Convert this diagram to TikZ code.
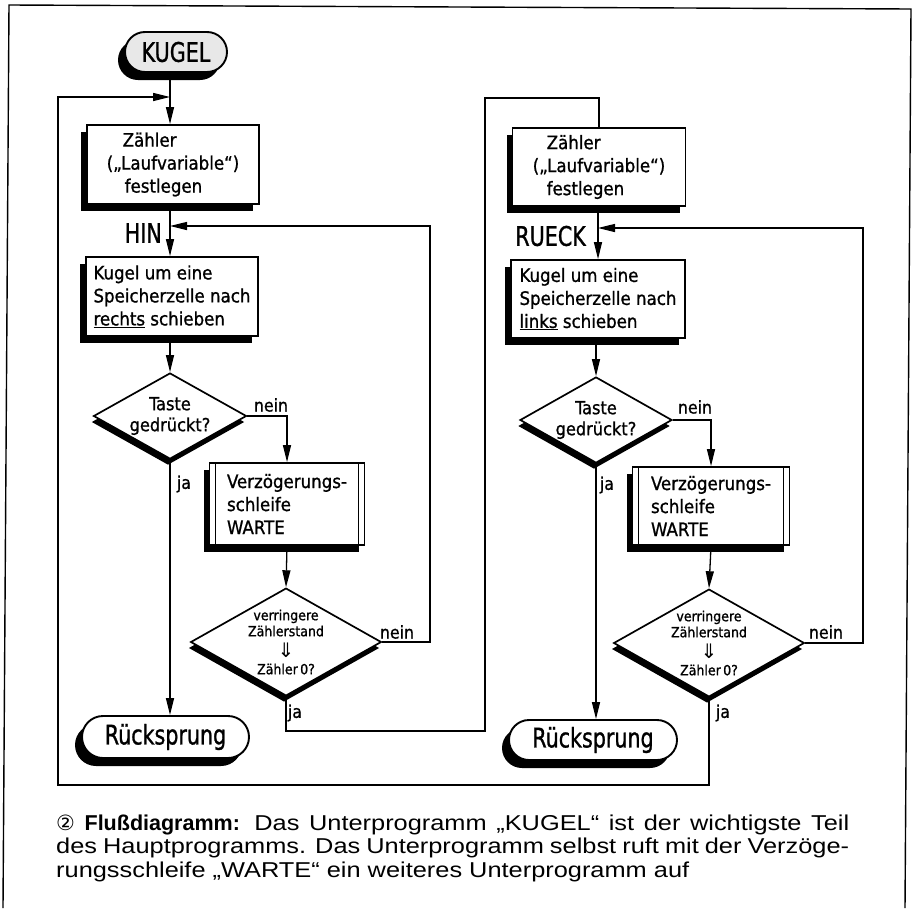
\documentclass[tikz,border=0pt]{standalone}
\usepackage{fontspec}
\setmainfont{DejaVu Sans Condensed}[FakeBold=1]
\newfontfamily\bigfont{DejaVu Sans Condensed}[FakeStretch=0.85,FakeBold=1]
\newfontfamily\capfont{Liberation Sans}[FakeStretch=1.18]
\newfontfamily\capbold{Liberation Sans Bold}
\newfontfamily\symfont{DejaVu Sans}
\usetikzlibrary{shapes.geometric,shapes.misc,shadows,arrows.meta}
\begin{document}
\begin{tikzpicture}[x=1pt,y=-1pt,
  conn/.style={line width=1.3pt},
  arr/.style={line width=1.3pt,-{Triangle[length=17pt,width=8pt]}},
  procbox/.style={draw, line width=1.7pt, fill=white, rectangle, inner sep=0pt,
     font=\fontsize{18.5}{23}\selectfont, align=left,
     drop shadow={shadow xshift=-6pt, shadow yshift=-7pt, opacity=1, fill=black}},
  termbox/.style={draw, line width=1.9pt, fill=white, rounded rectangle, inner sep=0pt,
     font=\bigfont\fontsize{27}{28}\selectfont,
     drop shadow={shadow xshift=-7pt, shadow yshift=-8pt, opacity=1, fill=black}},
  decbox/.style={draw, line width=1.7pt, fill=white, diamond, inner sep=0pt, align=center,
     drop shadow={shadow xshift=-2pt, shadow yshift=-6pt, opacity=1, fill=black}},
  lbl/.style={inner sep=0pt, font=\fontsize{17.5}{19}\selectfont},
  biglbl/.style={inner sep=0pt, font=\bigfont\fontsize{27}{28}\selectfont},
  capline/.style={inner sep=0pt, anchor=base west, font=\capfont\fontsize{21.5}{23.5}\selectfont}
]
\useasboundingbox (0,0) rectangle (918,908);
\fill[white] (0,0) rectangle (918,908);
% outer frame
\draw[line width=1.4pt] (3,908) -- (9,5) -- (911,9) -- (905,908);

% ---------- left column ----------
\node[termbox, fill=gray!18, minimum width=102pt, minimum height=40pt] (kugel) at (176,52) {KUGEL};
\coordinate (j1) at (170,97);
\node[procbox, minimum width=172pt, minimum height=79pt] (b1) at (173,164.5)
  {\hspace*{16pt}Zähler\\(„Laufvariable“)\\\hspace*{18pt}festlegen};
\coordinate (j2) at (170,226);
\node[biglbl, anchor=east] (hin) at (162,233) {HIN};
\node[procbox, minimum width=172pt, minimum height=79pt] (b2) at (172,296.5)
  {Kugel um eine\\Speicherzelle nach\\\underline{rechts} schieben};
\node[decbox, minimum width=153pt, minimum height=86pt, aspect=1.78,
  font=\fontsize{18}{21}\selectfont] (d1) at (170,416) {Taste\\gedrückt?};
\node[procbox, minimum width=155pt, minimum height=82pt] (b3) at (287,504)
  {Verzögerungs-\\schleife\\WARTE};
\draw[line width=1.3pt] ([xshift=7pt]b3.north west) -- ([xshift=7pt]b3.south west);
\draw[line width=1.3pt] ([xshift=-7pt]b3.north east) -- ([xshift=-7pt]b3.south east);
\node[decbox, minimum width=188pt, minimum height=106pt, aspect=1.77,
  font=\fontsize{14}{16}\selectfont] (d2) at (286,642)
  {verringere\\Zählerstand\\[5pt]{\symfont\fontsize{20}{16}\selectfont ⇓}\\[1pt]Zähler\,0?};
\node[termbox, minimum width=167pt, minimum height=42pt] (r1) at (165.5,737) {Rücksprung};
\node[lbl] (n1) at (271,405) {nein};
\node[lbl] (y1) at (184,484) {ja};
\node[lbl] (n2) at (397,632) {nein};
\node[lbl] (y2) at (295,713) {ja};

\coordinate (lr) at (430,226);
\coordinate (xa) at (485,731);
\coordinate (xb) at (485,98);

% ---------- right column ----------
\node[procbox, minimum width=173pt, minimum height=78pt] (rb1) at (599,167)
  {\hspace*{14pt}Zähler\\(„Laufvariable“)\\\hspace*{14pt}festlegen};
\coordinate (jr2) at (598,228);
\node[biglbl, anchor=east] (rueck) at (586,236) {RUECK};
\node[procbox, minimum width=174pt, minimum height=78pt] (rb2) at (598,299)
  {Kugel um eine\\Speicherzelle nach\\\underline{links} schieben};
\node[decbox, minimum width=152pt, minimum height=86pt, aspect=1.77,
  font=\fontsize{18}{21}\selectfont] (rd1) at (596,420) {Taste\\gedrückt?};
\node[procbox, minimum width=157pt, minimum height=78pt] (rb3) at (711,506)
  {Verzögerungs-\\schleife\\WARTE};
\draw[line width=1.3pt] ([xshift=7pt]rb3.north west) -- ([xshift=7pt]rb3.south west);
\draw[line width=1.3pt] ([xshift=-7pt]rb3.north east) -- ([xshift=-7pt]rb3.south east);
\node[decbox, minimum width=188pt, minimum height=106pt, aspect=1.77,
  font=\fontsize{14}{16}\selectfont] (rd2) at (709,643)
  {verringere\\Zählerstand\\[5pt]{\symfont\fontsize{20}{16}\selectfont ⇓}\\[1pt]Zähler\,0?};
\node[termbox, minimum width=168pt, minimum height=40pt] (r2) at (593,740) {Rücksprung};
\node[lbl] (n3) at (695,407) {nein};
\node[lbl] (y3) at (607,485) {ja};
\node[lbl] (n4) at (826,632) {nein};
\node[lbl] (y4) at (723,713) {ja};

\coordinate (rr) at (863,228);
\coordinate (lb) at (58,785);
\coordinate (lt) at (58,97);

% ---------- connectors left ----------
\draw[conn] (kugel.south -| j1) -- (j1);
\draw[arr] (j1) -- (b1.north -| j1);
\draw[conn] (b1.south -| j2) -- (j2);
\draw[arr] (j2) -- (b2.north -| j2);
\draw[arr] (b2.south -| d1.north) -- (d1.north);
\draw[arr] (d1.east) -| (b3.north);
\draw[arr] (b3.south) -- (d2.north);
\draw[arr] (d1.south) -- (r1.north -| d1.south);
\draw[arr] (d2.east) -- (d2.east -| lr) -- (lr) -- (j2);
\draw[conn] (d2.south) -- (d2.south |- xa) -- (xa) -- (xb) -- (xb -| rb1.north) -- (rb1.north);

% ---------- connectors right ----------
\draw[conn] (rb1.south -| jr2) -- (jr2);
\draw[arr] (jr2) -- (rb2.north -| jr2);
\draw[arr] (rb2.south -| rd1.north) -- (rd1.north);
\draw[arr] (rd1.east) -| (rb3.north);
\draw[arr] (rb3.south) -- (rd2.north);
\draw[arr] (rd1.south) -- (r2.north -| rd1.south);
\draw[arr] (rd2.east) -- (rd2.east -| rr) -- (rr) -- (jr2);
\draw[arr] (rd2.south) -- (rd2.south |- lb) -- (lb) -- (lt) -- (j1);

% ---------- caption ----------
\node[capline] (c1) at (56,830)
  {\makebox[793pt][s]{{\symfont\fontsize{21}{23}\selectfont ②} {\capbold Flußdiagramm:} Das Unterprogramm „KUGEL“ ist der wichtigste Teil}};
\node[capline] (c2) at (56,853)
  {\makebox[793pt][s]{des Hauptprogramms. Das Unterprogramm selbst ruft mit der Verzöge-}};
\node[capline] (c3) at (56,877)
  {rungsschleife „WARTE“ ein weiteres Unterprogramm auf};
\end{tikzpicture}
\end{document}
